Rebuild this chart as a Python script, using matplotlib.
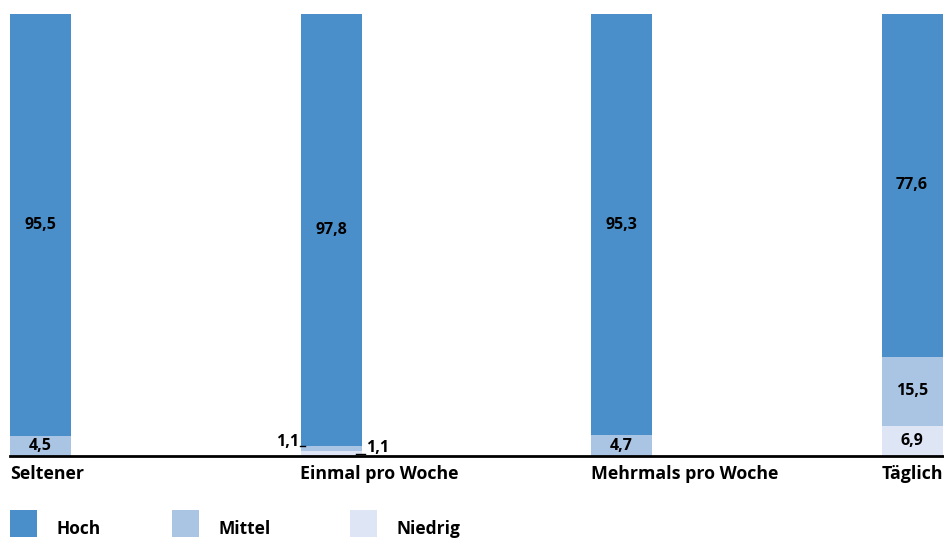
import matplotlib
matplotlib.use("Agg")
import matplotlib.pyplot as plt
from matplotlib.patches import Rectangle

plt.rcParams['font.family'] = ['Open Sans', 'DejaVu Sans']
plt.rcParams['font.weight'] = 'bold'

categories = ["Seltener", "Einmal pro Woche", "Mehrmals pro Woche", "Täglich"]
series_names = ["Hoch", "Mittel", "Niedrig"]
niedrig = [0.0, 1.1, 0.0, 6.9]
mittel = [4.5, 1.1, 4.7, 15.5]
hoch = [95.5, 97.8, 95.3, 77.6]
colors = {"Hoch": "#4a8fc9", "Mittel": "#aac4e4", "Niedrig": "#dee5f4"}

fig = plt.figure(figsize=(9.44, 5.4), dpi=100)
ax = fig.add_axes([10 / 944, 1 - 456 / 540, 934 / 944, 442 / 540])

width = 61 / 290.5
x = list(range(len(categories)))
bottoms = [0.0] * len(x)
stack = [("Niedrig", niedrig), ("Mittel", mittel), ("Hoch", hoch)]
for name, vals in stack:
    ax.bar(x, vals, width=width, bottom=bottoms, align="edge",
           color=colors[name], linewidth=0)
    for i, v in enumerate(vals):
        if v >= 3:
            ax.text(x[i] + width / 2, bottoms[i] + v / 2, f"{v:.1f}".replace(".", ","),
                    ha="center", va="center", fontsize=11.5, fontweight="bold")
    bottoms = [b + v for b, v in zip(bottoms, vals)]

# small segments in "Einmal pro Woche" get outside labels with short leaders
i = 1
ax.text(x[i] - 0.003, niedrig[i] + mittel[i] + 1.0, f"{mittel[i]:.1f}".replace(".", ","),
        ha="right", va="center", fontsize=11.5, fontweight="bold")
ax.plot([x[i] - 0.003, x[i] + 0.015], [niedrig[i] + mittel[i] + 0.1] * 2,
        color="black", lw=1, clip_on=False)
ax.text(x[i] + width + 0.017, niedrig[i] / 2 + 1.2, f"{niedrig[i]:.1f}".replace(".", ","),
        ha="left", va="center", fontsize=11.5, fontweight="bold")
ax.plot([x[i] + width - 0.02, x[i] + width + 0.012], [niedrig[i] / 2] * 2,
        color="black", lw=1, clip_on=False)

ax.set_xlim(0, 934 / 290.5)
ax.set_ylim(0, 100)
for s in ["top", "right", "left"]:
    ax.spines[s].set_visible(False)
ax.spines["bottom"].set_linewidth(2)
ax.spines["bottom"].set_color("black")
ax.set_yticks([])
ax.set_xticks([])

for i, c in enumerate(categories):
    ax.text(x[i], -4.1, c, ha="left", va="center", fontsize=12.8, fontweight="bold",
            transform=ax.transData, clip_on=False)

# legend
leg_x = [10, 172, 350]
for lx, name in zip(leg_x, series_names):
    fig.patches.append(Rectangle((lx / 944, 1 - 537 / 540), 27 / 944, 27 / 540,
                                 transform=fig.transFigure, color=colors[name], lw=0))
    fig.text((lx + 47) / 944, 1 - 529 / 540, name, ha="left", va="center",
             fontsize=12.5, fontweight="bold")

fig.savefig("out.png", dpi=100)
